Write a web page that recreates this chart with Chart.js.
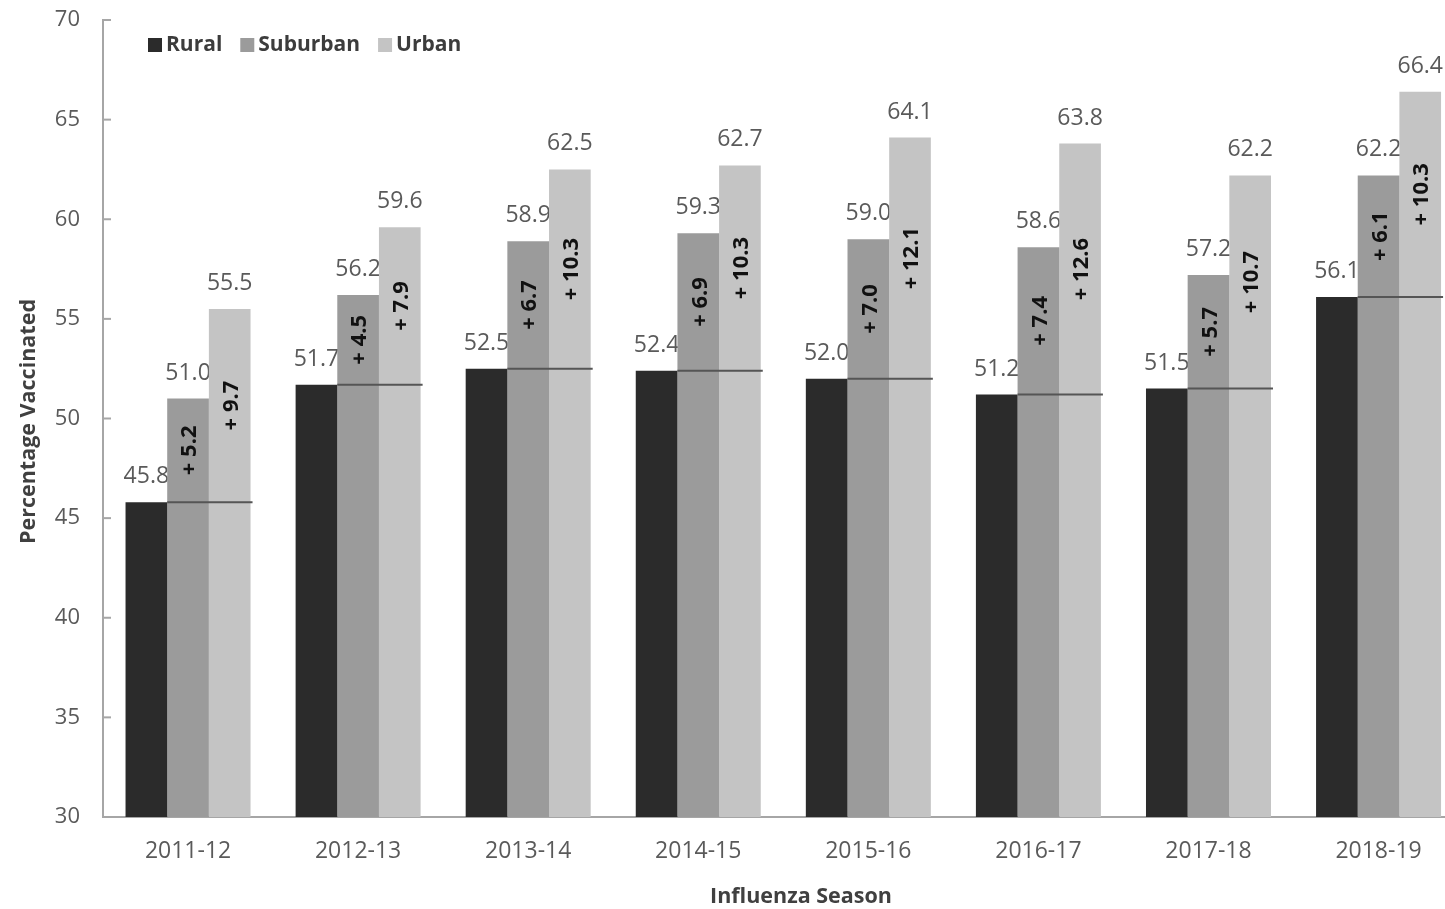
<!DOCTYPE html>
<html>
<head>
<meta charset="utf-8">
<title>Influenza vaccination by urbanicity</title>
<script src="https://cdn.jsdelivr.net/npm/chart.js@4.4.1/dist/chart.umd.min.js"></script>
<style>
  html, body { margin: 0; padding: 0; background: #ffffff; overflow: hidden; }
  #wrap { width: 1470px; height: 909px; }
</style>
</head>
<body>
<div id="wrap"><canvas id="chart" width="1470" height="909"></canvas></div>
<script>
// Influenza seasons on the category axis
const seasons = ['2011-12', '2012-13', '2013-14', '2014-15', '2015-16', '2016-17', '2017-18', '2018-19'];

// Percentage vaccinated, by area type
const rural    = [45.8, 51.7, 52.5, 52.4, 52.0, 51.2, 51.5, 56.1];
const suburban = [51.0, 56.2, 58.9, 59.3, 59.0, 58.6, 57.2, 62.2];
const urban    = [55.5, 59.6, 62.5, 62.7, 64.1, 63.8, 62.2, 66.4];

// Percentage-point gap above the rural rate, as reported
const suburbanGap = [5.2, 4.5, 6.7, 6.9, 7.0, 7.4, 5.7, 6.1];
const urbanGap    = [9.7, 7.9, 10.3, 10.3, 12.1, 12.6, 10.7, 10.3];

// Value axis
const yMin = 30;
const yMax = 70;
const yStep = 5;

const seriesNames = ['Rural', 'Suburban', 'Urban'];
const seriesColors = ['#2b2b2b', '#9b9b9b', '#c4c4c4'];

const FONT = "'Open Sans', 'DejaVu Sans', sans-serif";

// Value labels sit underneath the bars; gap labels, rural reference lines,
// legend, inward axis ticks and axis titles are drawn on top.
const annotations = {
  id: 'annotations',
  beforeDatasetsDraw(chart) {
    const ctx = chart.ctx;
    ctx.save();
    ctx.font = '23px ' + FONT;
    ctx.fillStyle = '#5a5a5a';
    ctx.textAlign = 'center';
    ctx.textBaseline = 'alphabetic';
    chart.data.datasets.forEach((ds, i) => {
      const meta = chart.getDatasetMeta(i);
      meta.data.forEach((bar, j) => {
        ctx.fillText(ds.data[j].toFixed(1), bar.x, bar.y - 19);
      });
    });
    ctx.restore();
  },
  afterDatasetsDraw(chart) {
    const ctx = chart.ctx;
    const mR = chart.getDatasetMeta(0);
    const mS = chart.getDatasetMeta(1);
    const mU = chart.getDatasetMeta(2);
    ctx.save();

    // rural reference line across each season's group
    ctx.strokeStyle = '#555555';
    ctx.lineWidth = 2;
    mR.data.forEach((r, j) => {
      const u = mU.data[j];
      ctx.beginPath();
      ctx.moveTo(r.x + r.width / 2, r.y);
      ctx.lineTo(u.x + u.width / 2 + 2, r.y);
      ctx.stroke();
    });

    // rotated gap labels centred in the part of each bar above the rural line
    ctx.font = 'bold 22px ' + FONT;
    ctx.fillStyle = '#111111';
    ctx.textAlign = 'center';
    ctx.textBaseline = 'middle';
    const gapLabel = (bar, base, gap) => {
      ctx.save();
      ctx.translate(bar.x + 2, (bar.y + base) / 2);
      ctx.rotate(-Math.PI / 2);
      ctx.fillText('+ ' + gap.toFixed(1), 0, 0);
      ctx.restore();
    };
    mR.data.forEach((r, j) => {
      gapLabel(mS.data[j], r.y, suburbanGap[j]);
      gapLabel(mU.data[j], r.y, urbanGap[j]);
    });
    ctx.restore();
  },
  afterDraw(chart) {
    const ctx = chart.ctx;
    const area = chart.chartArea;
    const yScale = chart.scales.y;
    ctx.save();

    // inward tick marks on the value axis
    ctx.strokeStyle = '#a6a6a6';
    ctx.lineWidth = 2;
    yScale.ticks.forEach(t => {
      const y = yScale.getPixelForValue(t.value);
      ctx.beginPath();
      ctx.moveTo(area.left - 1, y);
      ctx.lineTo(area.left + 8, y);
      ctx.stroke();
    });

    // legend
    ctx.font = 'bold 21px ' + FONT;
    ctx.textAlign = 'left';
    ctx.textBaseline = 'middle';
    let x = area.left + 45;
    const ly = area.top + 25;
    chart.data.datasets.forEach(ds => {
      ctx.fillStyle = ds.backgroundColor;
      ctx.fillRect(x, ly - 7, 14, 14);
      ctx.fillStyle = '#3c3c3c';
      ctx.fillText(ds.label, x + 18, ly);
      x += 18 + ctx.measureText(ds.label).width + 18;
    });

    // axis titles
    ctx.font = 'bold 21.5px ' + FONT;
    ctx.fillStyle = '#404040';
    ctx.textAlign = 'center';
    ctx.textBaseline = 'middle';
    ctx.fillText('Influenza Season', 801, 897);
    ctx.save();
    ctx.translate(29, (area.top + area.bottom) / 2 + 3);
    ctx.rotate(-Math.PI / 2);
    ctx.fillText('Percentage Vaccinated', 0, 0);
    ctx.restore();

    ctx.restore();
  }
};

const seriesValues = [rural, suburban, urban];

new Chart(document.getElementById('chart'), {
  type: 'bar',
  data: {
    labels: seasons,
    datasets: seriesValues.map((vals, i) => ({
      label: seriesNames[i],
      data: vals,
      backgroundColor: seriesColors[i],
      borderWidth: 0,
      categoryPercentage: 0.735,
      barPercentage: 1.0
    }))
  },
  options: {
    responsive: false,
    animation: false,
    devicePixelRatio: 1,
    layout: { padding: { top: 20, right: 6.4, bottom: 0, left: 0 } },
    plugins: {
      legend: { display: false },
      tooltip: { enabled: false }
    },
    scales: {
      x: {
        grid: { display: false, drawTicks: false },
        border: { display: true, color: '#a6a6a6', width: 2 },
        ticks: {
          color: '#5a5a5a',
          font: { family: FONT, size: 23 },
          padding: 21,
          maxRotation: 0
        },
        afterFit(scale) {
          scale.height = 92;
          scale.paddingLeft = 0;
          scale.paddingRight = 0;
        }
      },
      y: {
        min: yMin,
        max: yMax,
        grid: { display: true, drawOnChartArea: false, drawTicks: false },
        border: { display: true, color: '#a6a6a6', width: 2 },
        ticks: {
          stepSize: yStep,
          color: '#5a5a5a',
          font: { family: FONT, size: 22 },
          padding: 23
        },
        afterFit(scale) {
          scale.width = 103;
          scale.paddingTop = 0;
          scale.paddingBottom = 0;
        }
      }
    }
  },
  plugins: [annotations]
});
</script>
</body>
</html>
